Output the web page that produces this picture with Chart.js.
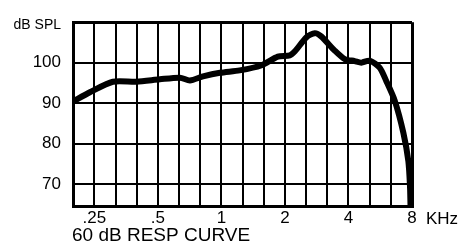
<!DOCTYPE html>
<html>
<head>
<meta charset="utf-8">
<script src="https://cdn.jsdelivr.net/npm/chart.js@4.4.1/dist/chart.umd.min.js"></script>
<style>
    html, body { margin: 0; padding: 0; background: #fff; }
    #wrap { width: 458px; height: 245px; }
</style>
</head>
<body>
<div id="wrap"><canvas id="respChart" width="458" height="245"></canvas></div>
<script>
// Frequency (kHz) and level (dB SPL)
const freqKHz = [0.198, 0.238, 0.306, 0.396, 0.511, 0.636, 0.709, 0.818, 0.984, 1.22, 1.54, 1.85, 2.11, 2.23, 2.53, 2.77, 2.97, 3.44, 3.84, 4.28, 4.60, 5.04, 5.62, 6.04, 6.62, 7.28, 7.69, 7.83, 7.87];
const splDb = [90.4, 92.7, 95.3, 95.3, 95.9, 96.3, 95.6, 96.6, 97.5, 98.1, 99.3, 101.5, 101.8, 102.8, 106.3, 107.3, 106.5, 103.0, 100.9, 100.4, 100.0, 100.5, 98.8, 95.5, 90.7, 82.7, 75.6, 69.2, 64.6];

// 1/3 octave grid + octave labels
const freqTicks = [0.198, 0.25, 0.315, 0.397, 0.5, 0.63, 0.794, 1, 1.26, 1.587, 2, 2.52, 3.175, 4, 5.04, 6.35, 8];
const freqLabels = { 0.25: '.25', 0.5: '.5', 1: '1', 2: '2', 4: '4', 8: '8' };
const dbTicks = [70, 80, 90, 100, 110];

const FONT = "'Liberation Sans', Arial, Helvetica, sans-serif";

// Extra text: unit labels and the caption
const labelsPlugin = {
    id: 'extraLabels',
    afterDraw(chart) {
        const c = chart.ctx;
        c.save();
        c.fillStyle = '#000';
        c.textBaseline = 'alphabetic';

        c.font = '14px ' + FONT;
        c.textAlign = 'right';
        c.fillText('dB SPL', 61, 29);

        c.font = '17px ' + FONT;
        c.textAlign = 'left';
        c.fillText('KHz', 426, 224);

        c.font = '19px ' + FONT;
        c.fillText('60 dB RESP CURVE', 72, 241);
        c.restore();
    }
};

const edgeWidth = (ctx, n) => (ctx.index === 0 || ctx.index === n - 1) ? 3 : 2;

new Chart(document.getElementById('respChart'), {
    type: 'line',
    data: {
        datasets: [{
            data: freqKHz.map((f, i) => ({ x: f, y: splDb[i] })),
            borderColor: '#000',
            borderWidth: 6,
            borderCapStyle: 'round',
            borderJoinStyle: 'round',
            pointRadius: 0,
            tension: 0.25,
            fill: false
        }]
    },
    options: {
        responsive: false,
        animation: false,
        events: [],
        layout: { padding: { top: 16, right: 46, left: 0, bottom: 0 } },
        plugins: { legend: { display: false }, tooltip: { enabled: false } },
        scales: {
            x: {
                type: 'logarithmic',
                min: freqTicks[0],
                max: 8,
                afterBuildTicks: (scale) => { scale.ticks = freqTicks.map(v => ({ value: v })); },
                afterFit: (scale) => { scale.height = 39; },
                grid: {
                    color: '#000',
                    lineWidth: (ctx) => edgeWidth(ctx, freqTicks.length),
                    drawTicks: false
                },
                border: { display: true, color: '#000', width: 3 },
                ticks: {
                    autoSkip: false,
                    maxRotation: 0,
                    padding: 2,
                    color: '#000',
                    font: { family: FONT, size: 17 },
                    callback: (v) => freqLabels[v] || ''
                }
            },
            y: {
                min: 64.6,
                max: 110,
                afterBuildTicks: (scale) => { scale.ticks = dbTicks.map(v => ({ value: v })); },
                afterFit: (scale) => { scale.width = 73; },
                grid: {
                    color: '#000',
                    lineWidth: (ctx) => ctx.index === dbTicks.length - 1 ? 3 : 2,
                    drawTicks: false
                },
                border: { display: true, color: '#000', width: 3 },
                ticks: {
                    padding: 12,
                    color: '#000',
                    font: { family: FONT, size: 17 },
                    callback: (v) => v === 110 ? '' : String(v)
                }
            }
        }
    },
    plugins: [labelsPlugin]
});
</script>
</body>
</html>
